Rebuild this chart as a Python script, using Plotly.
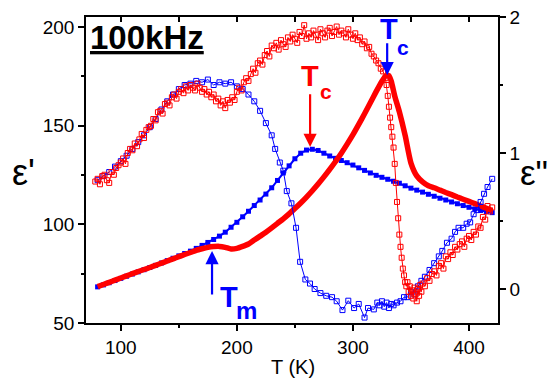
import plotly.graph_objects as go

# ---------------- data ----------------
# blue, filled squares: epsilon' (left axis)
T_blue_eps1 = [80, 85, 90, 95, 100, 105, 110, 115, 120, 125, 130, 135, 140, 145, 150, 155, 160, 165,
               170, 175, 180, 185, 190, 195, 200, 205, 210, 215, 220, 225, 230, 235, 240, 245, 250,
               255, 260, 265, 270, 275, 280, 285, 290, 295, 300, 305, 310, 315, 320, 325, 330, 335,
               340, 345, 350, 355, 360, 365, 370, 375, 380, 385, 390, 395, 400, 405, 410, 415, 420]
blue_eps1 = [68.3, 69.3, 70.4, 71.5, 72.6, 73.7, 74.8, 75.9, 77.0, 78.1, 79.2, 80.4, 81.6, 82.8, 84.0,
             85.2, 86.4, 87.8, 89.3, 90.8, 92.3, 94.0, 96.0, 98.5, 101.0, 103.8, 106.6, 109.5, 112.3,
             115.3, 118.5, 122.2, 126.0, 129.6, 133.2, 136.0, 137.6, 138.0, 137.4, 136.0, 134.6, 133.4,
             132.3, 131.2, 130.0, 128.6, 127.3, 126.0, 124.8, 123.8, 122.8, 121.8, 120.8, 119.5, 118.3,
             117.3, 116.3, 115.2, 114.2, 113.2, 112.3, 111.3, 110.4, 109.5, 108.6, 107.8, 107.0, 106.4,
             105.9]

# red, thick line: epsilon' (left axis)
T_red_eps1 = [80, 85, 90, 95, 100, 105, 110, 115, 120, 125, 130, 135, 140, 145, 150, 155, 160, 165,
              170, 175, 180, 185, 190, 195, 200, 205, 210, 215, 220, 225, 230, 235, 240, 245, 250,
              255, 260, 265, 270, 275, 280, 285, 290, 295, 300, 305, 310, 315, 320, 325, 328, 331,
              333, 336, 340, 345, 350, 355, 360, 365, 370, 375, 380, 385, 390, 395, 400, 405, 410,
              415, 420]
red_eps1 = [68.4, 69.5, 70.6, 71.7, 72.8, 73.9, 75.0, 76.1, 77.1, 78.1, 79.2, 80.3, 81.4, 82.5, 83.6,
            84.7, 85.7, 86.8, 87.6, 88.3, 88.7, 88.8, 88.3, 87.5, 87.8, 88.8, 90.0, 92.0, 94.0, 96.0,
            98.2, 100.5, 102.8, 105.3, 108.0, 110.8, 113.8, 117.0, 120.4, 124.0, 127.8, 131.8, 136.0,
            140.6, 145.4, 150.6, 156.0, 161.6, 167.2, 172.5, 175.0, 175.3, 172.5, 165.0, 157.0, 145.0,
            131.0, 124.5, 121.5, 119.5, 118.5, 117.3, 116.1, 115.0, 113.8, 112.7, 111.6, 110.5, 109.3,
            108.1, 106.9]

# blue, open squares: epsilon'' (right axis)
T_blue_eps2 = [80, 85, 90, 95, 100, 105, 110, 115, 120, 125, 130, 135, 140, 145, 150, 155, 160, 165,
               170, 175, 180, 185, 190, 195, 200, 205, 210, 215, 220, 225, 230, 233, 237, 240, 243,
               247, 251, 254.5, 259, 263, 267, 272, 277, 282, 286, 291, 296, 301, 305, 310, 313, 318,
               321, 323, 325, 327, 329, 331, 333, 335, 338, 341, 344, 347, 350, 353, 356, 359, 362,
               366, 370, 374, 377, 381, 385, 388, 391, 395, 398, 401, 404, 407, 410, 413, 416, 420]
blue_eps2 = [0.80, 0.83, 0.86, 0.90, 0.94, 0.98, 1.03, 1.08, 1.13, 1.19, 1.25, 1.32, 1.38, 1.43, 1.47,
             1.50, 1.51, 1.53, 1.52, 1.54, 1.50, 1.52, 1.51, 1.52, 1.49, 1.47, 1.43, 1.38, 1.31, 1.22,
             1.13, 1.03, 0.93, 0.87, 0.72, 0.63, 0.45, 0.20, 0.07, 0.04, 0.00, -0.03, -0.05, -0.06,
             -0.09, -0.155, -0.086, -0.14, -0.11, -0.21, -0.14, -0.15, -0.10, -0.12, -0.09, -0.13,
             -0.10, -0.14, -0.11, -0.12, -0.10, -0.09, -0.06, -0.06, -0.02, -0.04, 0.02, 0.06, 0.09,
             0.14, 0.19, 0.24, 0.28, 0.34, 0.37, 0.42, 0.45, 0.45, 0.48, 0.49, 0.55, 0.58, 0.64, 0.70,
             0.75, 0.81]

# red, open squares: epsilon'' (right axis)
T_red_eps2 = [78, 80, 82, 84, 86, 88, 90, 92, 94, 96, 98, 100, 102, 104, 106, 108, 110, 112, 114, 116,
              118, 120, 122, 124, 126, 128, 130, 132, 134, 136, 138, 140, 142, 144, 146, 148, 150, 152,
              154, 156, 158, 160, 162, 164, 166, 168, 170, 172, 174, 176, 178, 180, 182, 184, 186, 188,
              190, 192, 194, 196, 198, 200, 202, 204, 206, 208, 210, 212, 214, 216, 218, 220, 222, 224,
              226, 228, 230, 232, 234, 236, 238, 240, 242, 244, 246, 248, 250, 252, 254, 256, 258, 260,
              262, 264, 266, 268, 270, 272, 274, 276, 278, 280, 282, 284, 286, 288, 290, 292, 294, 296,
              298, 300, 302, 304, 306, 308, 310, 312, 314, 316, 318, 320, 322, 324, 326, 328, 329, 330,
              331, 332, 333, 334, 335, 336, 337, 338, 339, 340, 341, 342, 343, 344, 345, 346, 347, 348,
              349, 350, 351, 352, 353, 354, 355, 356, 357, 358, 359, 360, 362, 364, 366, 368, 370, 372,
              374, 376, 378, 380, 382, 384, 386, 388, 390, 392, 394, 396, 398, 400, 402, 404, 406, 408,
              410, 412, 414, 416, 418, 420]
red_eps2 = [0.79, 0.81, 0.77, 0.83, 0.84, 0.80, 0.78, 0.86, 0.84, 0.89, 0.91, 0.93, 0.96, 0.92, 1.00,
            1.03, 1.02, 1.07, 1.05, 1.10, 1.14, 1.11, 1.17, 1.19, 1.20,
            1.25, 1.24, 1.30, 1.31, 1.29, 1.36, 1.37, 1.35, 1.41, 1.43, 1.40, 1.45, 1.47, 1.44, 1.49,
            1.46, 1.50, 1.48, 1.46, 1.51, 1.48, 1.45, 1.47, 1.43, 1.45,
            1.41, 1.43, 1.38, 1.40, 1.35, 1.38, 1.33, 1.39, 1.37, 1.41, 1.39, 1.45, 1.48, 1.46, 1.52,
            1.55, 1.53, 1.58, 1.62, 1.59, 1.66, 1.68, 1.65, 1.72, 1.75,
            1.71, 1.79, 1.77, 1.81, 1.76, 1.83, 1.80, 1.78, 1.85, 1.82, 1.87, 1.84, 1.81, 1.89, 1.86,
            1.94, 1.84, 1.88, 1.85, 1.90, 1.87, 1.83, 1.91, 1.88, 1.85,
            1.90, 1.92, 1.86, 1.89, 1.93, 1.87, 1.90, 1.88, 1.85, 1.91, 1.87, 1.84, 1.88, 1.83, 1.85,
            1.80, 1.82, 1.77, 1.78, 1.73, 1.71, 1.68, 1.66, 1.62, 1.60, 1.55,
            1.50, 1.42, 1.34, 1.26, 1.19, 1.12, 1.04, 0.92, 0.78, 0.64, 0.52, 0.40, 0.31, 0.23, 0.15,
            0.10, 0.05, 0.02, 0.05, -0.02, 0.02, -0.05, -0.01, -0.07, 0.01, -0.04, -0.09, 0.00, -0.05,
            0.03, -0.02, 0.04,
            0.02, 0.08, 0.06, 0.11, 0.13, 0.10, 0.17, 0.19, 0.15, 0.24, 0.22, 0.27, 0.25, 0.31, 0.29,
            0.33, 0.35, 0.31, 0.37, 0.39, 0.36, 0.42, 0.40, 0.46, 0.45, 0.53, 0.51, 0.61, 0.57, 0.60]

x_ticks = [100, 200, 300, 400]
left_ticks = [50, 100, 150, 200]
right_ticks = [0, 1, 2]

BLUE = "#0000ff"
RED = "#ff0000"
FONT = "Liberation Sans, Arial, sans-serif"

fig = go.Figure()

fig.add_trace(go.Scatter(x=T_blue_eps2, y=blue_eps2, yaxis="y2", mode="lines+markers",
                         line=dict(color=BLUE, width=1),
                         marker=dict(symbol="square-open", size=5, color=BLUE, line=dict(width=1))))
fig.add_trace(go.Scatter(x=T_blue_eps1, y=blue_eps1, mode="lines+markers",
                         line=dict(color=BLUE, width=2),
                         marker=dict(symbol="square", size=5, color=BLUE)))
fig.add_trace(go.Scatter(x=T_red_eps1, y=red_eps1, mode="lines",
                         line=dict(color=RED, width=5.5, shape="spline", smoothing=0.6)))
fig.add_trace(go.Scatter(x=T_red_eps2, y=red_eps2, yaxis="y2", mode="lines+markers",
                         line=dict(color=RED, width=1),
                         marker=dict(symbol="square-open", size=5, color=RED, line=dict(width=1))))

axis_common = dict(showline=True, linecolor="black", linewidth=1.5, showgrid=False, zeroline=False,
                   tickcolor="black", tickwidth=1.5, automargin=False,
                   tickfont=dict(family=FONT, size=19, color="black"))

fig.update_layout(
    width=555, height=381,
    margin=dict(l=86, r=57, t=17, b=58),
    paper_bgcolor="white", plot_bgcolor="white",
    showlegend=False,
    font=dict(family=FONT, color="black"),
    xaxis=dict(range=[70, 425], tickmode="array", tickvals=x_ticks, ticks="outside", ticklen=6,
               minor=dict(ticks="outside", ticklen=3, dtick=50, tick0=0, tickcolor="black", tickwidth=1.5),
               **axis_common),
    xaxis2=dict(range=[70, 425], overlaying="x", side="top", ticks="inside", ticklen=5,
                tickmode="linear", tick0=0, dtick=50, showticklabels=False, automargin=False,
                showline=True, linecolor="black", linewidth=1.5, showgrid=False, zeroline=False,
                tickcolor="black", tickwidth=1.5),
    yaxis=dict(range=[50, 205], tickmode="array", tickvals=left_ticks, ticks="outside", ticklen=6,
               minor=dict(ticks="outside", ticklen=3, dtick=25, tick0=0, tickcolor="black", tickwidth=1.5),
               **axis_common),
    yaxis2=dict(range=[-0.25, 2.0], overlaying="y", side="right", tickmode="array",
                tickvals=right_ticks, ticks="outside", ticklen=6,
                minor=dict(ticks="outside", ticklen=3, dtick=0.5, tick0=0, tickcolor="black", tickwidth=1.5),
                **axis_common),
)

# invisible trace to activate top axis
fig.add_trace(go.Scatter(x=[70], y=[50], xaxis="x2", mode="markers", marker=dict(opacity=0),
                         hoverinfo="skip"))

ann = []
# axis titles
ann.append(dict(text="T (K)", xref="paper", yref="paper", x=0.503, y=-0.145, xanchor="center",
                yanchor="middle", showarrow=False, font=dict(family=FONT, size=20, color="black")))
ann.append(dict(text="ε'", xref="paper", yref="paper", x=-0.152, y=0.493, xanchor="center",
                yanchor="middle", showarrow=False, font=dict(family=FONT, size=36, color="black")))
ann.append(dict(text="ε\"", xref="paper", yref="paper", x=1.088, y=0.493, xanchor="center",
                yanchor="middle", showarrow=False, font=dict(family=FONT, size=35, color="black")))
# frequency label
ann.append(dict(text="<b><u>100kHz</u></b>", xref="paper", yref="paper", x=0.005, y=1.0,
                xanchor="left", yanchor="top", showarrow=False,
                font=dict(family=FONT, size=33, color="black")))

# arrows
def arrow(x, y, ax, ay, color):
    return dict(x=x, y=y, ax=ax, ay=ay, xref="x", yref="y", axref="x", ayref="y", text="",
                showarrow=True, arrowhead=2, arrowsize=1.2, arrowwidth=2.2, arrowcolor=color)

ann.append(arrow(329.5, 175.5, 329.5, 192.4, BLUE))
ann.append(arrow(263.1, 139.2, 263.1, 166.6, RED))
ann.append(arrow(178.6, 86.5, 178.6, 63.7, BLUE))

def label(x, y, t, color, size):
    return dict(x=x, y=y, xref="x", yref="y", text="<b>" + t + "</b>", showarrow=False,
                xanchor="center", yanchor="middle", font=dict(family=FONT, size=size, color=color))

ann.append(label(331.2, 199.0, "T", BLUE, 29))
ann.append(label(343.5, 189.5, "c", BLUE, 21))
ann.append(label(263.1, 175.2, "T", RED, 29))
ann.append(label(277.0, 167.5, "c", RED, 21))
ann.append(label(193.3, 63.0, "T", BLUE, 29))
ann.append(label(208.5, 56.5, "m", BLUE, 24))

fig.update_layout(annotations=ann)
fig.write_html("out.html", config={"displayModeBar": False},
               post_script="document.body.style.margin='0';document.body.style.overflow='hidden';")
